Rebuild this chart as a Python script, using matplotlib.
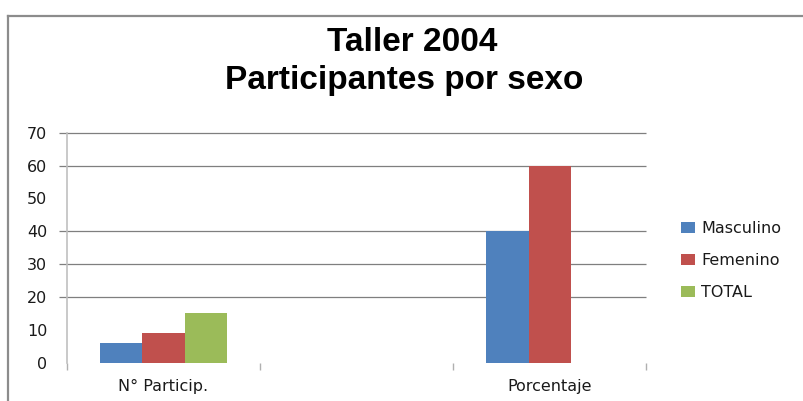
import numpy as np
import matplotlib.pyplot as plt
from matplotlib.lines import Line2D

categories = ["N° Particip.", "", "Porcentaje"]
series = ["Masculino", "Femenino", "TOTAL"]
masculino = [6, 0, 40]
femenino = [9, 0, 60]
total = [15, 0, 0]
colors = ["#4F81BD", "#C0504D", "#9BBB59"]
yticks = [0, 10, 20, 30, 40, 50, 60, 70]
grid_shown = [20, 30, 40, 60, 70]

fig = plt.figure(figsize=(8.04, 4.01), dpi=100)
ax = fig.add_axes([0.083, 0.0955, 0.721, 0.5735])

x = np.arange(len(categories))
w = 0.22
for i, vals in enumerate([masculino, femenino, total]):
    ax.bar(x + (i - 1) * w, vals, w, color=colors[i], label=series[i], zorder=3)

ax.set_xlim(-0.5, 2.5)
ax.set_ylim(0, 70)

# gridlines (only the ones visible in the picture), reaching a bit left of the axis
ax.hlines(grid_shown, -0.54, 2.5, color="#7f7f7f", lw=0.9, clip_on=False, zorder=1)

ax.set_yticks(yticks)
ax.set_yticklabels([str(v) for v in yticks])
ax.tick_params(axis="y", length=0, pad=14, labelsize=11.5, labelcolor="#1a1a1a")

ax.set_xticks(x)
ax.set_xticklabels(categories)
ax.tick_params(axis="x", which="major", length=0, pad=12, labelsize=11.5, labelcolor="#1a1a1a")
ax.set_xticks([-0.5, 0.5, 1.5, 2.5], minor=True)
ax.tick_params(axis="x", which="minor", length=5, width=1, color="#b0b0b0", direction="out")

for s in ["top", "right", "bottom"]:
    ax.spines[s].set_visible(False)
ax.spines["left"].set_color("#c0c0c0")
ax.spines["left"].set_linewidth(1.2)

title_font = ["Liberation Sans", "DejaVu Sans"]
fig.text(0.513, 0.895, "Taller 2004", ha="center", va="center", fontsize=24,
         fontweight="bold", family=title_font)
fig.text(0.503, 0.80, "Participantes por sexo", ha="center", va="center", fontsize=24,
         fontweight="bold", family=title_font)

ax.legend(loc="center left", bbox_to_anchor=(0.839, 0.35), bbox_transform=fig.transFigure,
          frameon=False, fontsize=11.5, labelspacing=1.05, handlelength=0.9, handleheight=0.7,
          handletextpad=0.35, borderaxespad=0, labelcolor="#1a1a1a")

# chart area border (top and left visible)
fig.add_artist(Line2D([8 / 804, 8 / 804], [0, 1 - 15.7 / 401], color="#8c8c8c", lw=1.6,
                      transform=fig.transFigure))
fig.add_artist(Line2D([8 / 804, 1], [1 - 15.7 / 401, 1 - 15.7 / 401], color="#8c8c8c", lw=1.6,
                      transform=fig.transFigure))

fig.savefig("out.png", dpi=100)
